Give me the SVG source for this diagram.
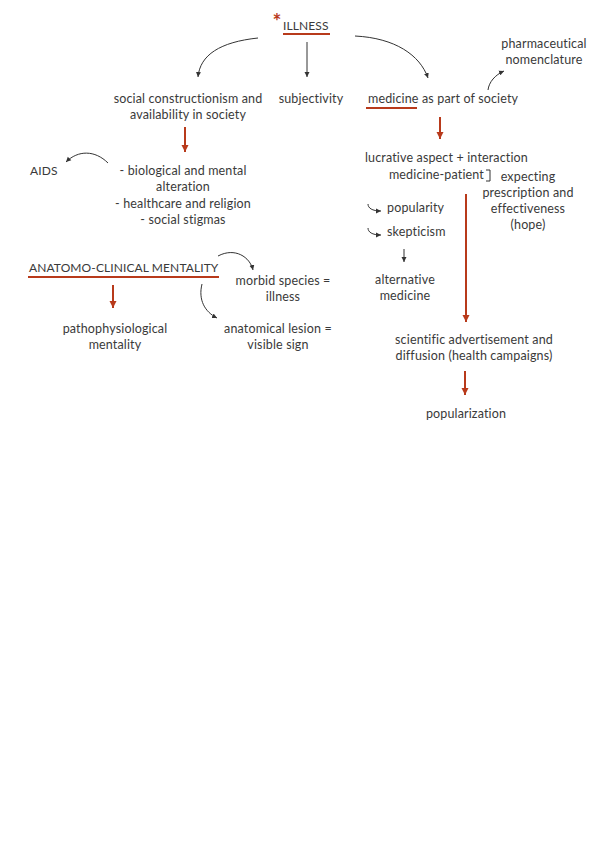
<svg xmlns="http://www.w3.org/2000/svg" width="601" height="848" viewBox="0 0 601 848">
<defs>
<style>
text{font-family:Lato,"Liberation Sans",sans-serif;font-size:12.5px;letter-spacing:0.15px;fill:#3a3a3a}
.c{text-anchor:middle}
.cap{font-size:12px;letter-spacing:0.1px}
.k{fill:none;stroke:#333;stroke-width:1}
.r{fill:none;stroke:#b83a1b;stroke-width:2}
.u{stroke:#b83a1b;stroke-width:2}
</style>
<marker id="ak" markerWidth="6" markerHeight="6" refX="5" refY="3" orient="auto" markerUnits="userSpaceOnUse"><path d="M0,0.5 L5,3 L0,5.5 Z" fill="#333"/></marker>
<marker id="ar" markerWidth="8" markerHeight="8" refX="7" refY="4" orient="auto" markerUnits="userSpaceOnUse"><path d="M0,0.5 L7,4 L0,7.5 Z" fill="#b83a1b"/></marker>
</defs>
<rect width="601" height="848" fill="#fff"/>
<g id="connectors">
<path class="k" d="M258,38 C220,42 200,55 198,77" marker-end="url(#ak)"/>
<path class="k" d="M307,42 L307,77" marker-end="url(#ak)"/>
<path class="k" d="M355,36 C395,38 420,55 428,78" marker-end="url(#ak)"/>
<path class="k" d="M488,90 C489,82 495,75 504,71" marker-end="url(#ak)"/>
<path class="r" d="M185,127 L185,152" marker-end="url(#ar)"/>
<path class="r" d="M440,117 L440,139" marker-end="url(#ar)"/>
<path class="k" d="M108,163 C95,150 78,150 66,162" marker-end="url(#ak)"/>
<path class="k" d="M368,204 C368,208 372,211 381,211" marker-end="url(#ak)"/>
<path class="k" d="M368,228 C368,232 372,235 381,235" marker-end="url(#ak)"/>
<path class="k" d="M404,249 L404,262" marker-end="url(#ak)"/>
<path class="r" d="M466,194 L466,322" marker-end="url(#ar)"/>
<path class="r" d="M465,371 L465,395" stroke-width="1.5" marker-end="url(#ar)"/>
<path class="r" d="M113,285 L113,308" marker-end="url(#ar)"/>
<path class="k" d="M218,256 C235,247 250,257 253,270" marker-end="url(#ak)"/>
<path class="k" d="M202,284 C198,300 205,312 217,318" marker-end="url(#ak)"/>
</g>
<g id="illness">
<text x="277" y="29" style="fill:#b83a1b;font-size:21px;font-weight:bold" class="c">*</text>
<text x="283" y="30" class="cap">ILLNESS</text>
<line class="u" x1="283" y1="34" x2="330" y2="34"/>
</g>
<g id="social"><text class="c" x="188" y="103">social constructionism and</text><text class="c" x="188" y="119">availability in society</text></g>
<g id="subjectivity"><text class="c" x="311" y="103">subjectivity</text></g>
<g id="medicine"><text x="368" y="103">medicine as part of society</text><line class="u" x1="366" y1="108" x2="417" y2="108" stroke-width="1.5"/></g>
<g id="pharma"><text class="c" x="544" y="48">pharmaceutical</text><text class="c" x="544" y="64">nomenclature</text></g>
<g id="aids"><text x="30" y="175" class="cap">AIDS</text></g>
<g id="bio"><text class="c" x="183" y="175">- biological and mental</text><text class="c" x="183" y="191">alteration</text><text class="c" x="183" y="208">- healthcare and religion</text><text class="c" x="183" y="224">- social stigmas</text></g>
<g id="lucrative"><text x="365" y="162">lucrative aspect + interaction</text><text x="484" y="179" text-anchor="end">medicine-patient</text><path class="k" d="M486,170 L490,170 L490,181 L486,181"/></g>
<g id="expecting"><text class="c" x="528" y="181">expecting</text><text class="c" x="528" y="197">prescription and</text><text class="c" x="528" y="213">effectiveness</text><text class="c" x="528" y="229">(hope)</text></g>
<g id="popularity"><text x="387" y="212">popularity</text></g>
<g id="skepticism"><text x="387" y="236">skepticism</text></g>
<g id="alternative"><text class="c" x="405" y="284">alternative</text><text class="c" x="405" y="300">medicine</text></g>
<g id="scientific"><text class="c" x="474" y="344">scientific advertisement and</text><text class="c" x="474" y="360">diffusion (health campaigns)</text></g>
<g id="popularization"><text class="c" x="466" y="418">popularization</text></g>
<g id="anatomo"><text x="29" y="272" class="cap">ANATOMO-CLINICAL MENTALITY</text><line class="u" x1="28" y1="277" x2="219" y2="277"/></g>
<g id="patho"><text class="c" x="115" y="333">pathophysiological</text><text class="c" x="115" y="349">mentality</text></g>
<g id="morbid"><text class="c" x="283" y="285">morbid species =</text><text class="c" x="283" y="301">illness</text></g>
<g id="lesion"><text class="c" x="278" y="333">anatomical lesion =</text><text class="c" x="278" y="349">visible sign</text></g>
</svg>
